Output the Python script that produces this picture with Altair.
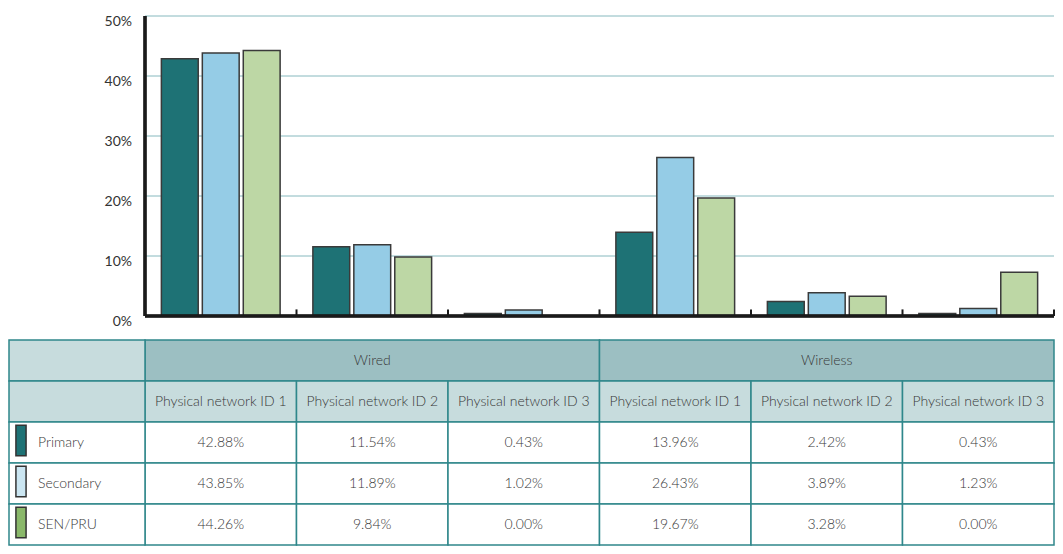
import altair as alt
import pandas as pd

# ---------------- data ----------------
conn_types = ["Wired", "Wired", "Wired", "Wireless", "Wireless", "Wireless"]
networks = ["Physical network ID 1", "Physical network ID 2", "Physical network ID 3"] * 2
series = ["Primary", "Secondary", "SEN/PRU"]

# bar heights (%)
bar_primary = [42.88, 11.54, 0.43, 13.96, 2.42, 0.43]
bar_secondary = [43.85, 11.89, 1.02, 26.43, 3.89, 1.23]
bar_sen = [44.26, 9.84, 0.00, 19.67, 3.28, 7.30]

# values printed in the table
tab_primary = ["42.88%", "11.54%", "0.43%", "13.96%", "2.42%", "0.43%"]
tab_secondary = ["43.85%", "11.89%", "1.02%", "26.43%", "3.89%", "1.23%"]
tab_sen = ["44.26%", "9.84%", "0.00%", "19.67%", "3.28%", "0.00%"]

y_ticks = [0, 10, 20, 30, 40, 50]

bar_colors = ["#1e7275", "#95cce6", "#bdd7a5"]
swatch_colors = ["#1e7275", "#cbe6f2", "#8ab86a"]

# ---------------- tables ----------------
groups = [f"{t} | {n}" for t, n in zip(conn_types, networks)]
bar_vals = {"Primary": bar_primary, "Secondary": bar_secondary, "SEN/PRU": bar_sen}
tab_vals = {"Primary": tab_primary, "Secondary": tab_secondary, "SEN/PRU": tab_sen}

bars_df = pd.DataFrame(
    [{"group": g, "series": s, "value": bar_vals[s][i]} for s in series for i, g in enumerate(groups)]
)
body_df = pd.DataFrame(
    [{"group": g, "row": s, "label": tab_vals[s][i]} for s in series for i, g in enumerate(groups)]
)
h2_df = pd.DataFrame([{"group": g, "row": "h2", "label": n} for g, n in zip(groups, networks)])
h1_df = pd.DataFrame(
    [
        {"start": groups[0], "end": groups[2], "mid": groups[1], "row": "h1", "label": conn_types[0]},
        {"start": groups[3], "end": groups[5], "mid": groups[4], "row": "h1", "label": conn_types[3]},
    ]
)
rowlab_df = pd.DataFrame([{"row": s, "label": s} for s in series])
hdr_left_df = pd.DataFrame([{"row": "h1"}, {"row": "h2"}])
ticks_df = pd.DataFrame({"v": y_ticks, "label": [f"{v}%" for v in y_ticks]})
grid_df = ticks_df[ticks_df.v > 0]
gend_df = pd.DataFrame({"group": groups})

# ---------------- scales ----------------
W, H = 1046, 530
xs = alt.Scale(domain=groups, range=[136, W - 1], paddingInner=0, paddingOuter=0)
ybar = alt.Scale(domain=[0, 50], range=[300, 0], nice=False, zero=True)
rows = ["h1", "h2"] + series
ytab = alt.Scale(domain=rows, range=[324, H - 1], paddingInner=0, paddingOuter=0)

FONT = "Lato"
TXT = "#383838"
BORDER = "#2f878b"

def X(field=None, **kw):
    if field is None:
        return alt.X(scale=xs, axis=None, type="nominal", **kw)
    return alt.X(field, scale=xs, axis=None, **kw)

def YB(field=None, **kw):
    if field is None:
        return alt.Y(scale=ybar, axis=None, type="quantitative", **kw)
    return alt.Y(field, scale=ybar, axis=None, **kw)

def YT(field=None, **kw):
    if field is None:
        return alt.Y(scale=ytab, axis=None, type="nominal", **kw)
    return alt.Y(field, scale=ytab, axis=None, **kw)

# ---------------- bar chart ----------------
grid = alt.Chart(grid_df).mark_rule(color="#86b9be", strokeWidth=1).encode(
    x=X(datum=groups[0], bandPosition=0),
    x2=alt.X2(datum=groups[-1], bandPosition=1),
    y=YB("v:Q"),
)

bars = alt.Chart(bars_df).mark_bar(stroke="#3a3a3a", strokeWidth=1.5).encode(
    x=X("group:N"),
    xOffset=alt.XOffset(
        "series:N", scale=alt.Scale(domain=series, paddingInner=0.1, paddingOuter=0.4)
    ),
    y=YB("value:Q"),
    color=alt.Color("series:N", scale=alt.Scale(domain=series, range=bar_colors), legend=None),
)

y_axis_line = alt.Chart(ticks_df).mark_rule(color="#1a1a1a", strokeWidth=2.5).encode(
    x=X(datum=groups[0], bandPosition=0),
    y=YB(datum=0),
    y2=alt.Y2(datum=50),
)

x_axis_line = alt.Chart(ticks_df).mark_rule(color="#1a1a1a", strokeWidth=2.5).encode(
    x=X(datum=groups[0], bandPosition=0),
    x2=alt.X2(datum=groups[-1], bandPosition=1),
    y=YB(datum=0),
)

x_ticks = alt.Chart(gend_df).mark_rule(color="#1a1a1a", strokeWidth=2).encode(
    x=X("group:N", bandPosition=1),
    y=YB(datum=0),
    y2=alt.Y2(datum=1.1),
)

y_labels = alt.Chart(ticks_df).mark_text(
    align="right", baseline="middle", dx=-13, dy=6, font=FONT, fontSize=14, color="#333333"
).encode(
    x=X(datum=groups[0], bandPosition=0),
    y=YB("v:Q"),
    text="label:N",
)

# ---------------- table ----------------
h1_cells = alt.Chart(h1_df).mark_rect(fill="#9cbfc2", stroke=BORDER, strokeWidth=1.5).encode(
    x=X("start:N", bandPosition=0),
    x2=alt.X2("end:N", bandPosition=1),
    y=YT("row:N"),
)
h2_cells = alt.Chart(h2_df).mark_rect(fill="#c7dcdd", stroke=BORDER, strokeWidth=1.5).encode(
    x=X("group:N"), y=YT("row:N")
)
body_cells = alt.Chart(body_df).mark_rect(fill="white", stroke=BORDER, strokeWidth=1.5).encode(
    x=X("group:N"), y=YT("row:N")
)
left_hdr = alt.Chart(hdr_left_df).mark_rect(fill="#c7dcdd", stroke=BORDER, strokeWidth=1.5).encode(
    x=X(datum=groups[0], bandPosition=0), x2=alt.value(0), y=YT("row:N")
)
left_body = alt.Chart(rowlab_df).mark_rect(fill="white", stroke=BORDER, strokeWidth=1.5).encode(
    x=X(datum=groups[0], bandPosition=0), x2=alt.value(0), y=YT("row:N")
)

txt_kw = dict(font=FONT, fontSize=14, fontWeight=300, color=TXT, baseline="middle")
h1_text = alt.Chart(h1_df).mark_text(**txt_kw).encode(x=X("mid:N"), y=YT("row:N"), text="label:N")
h2_text = alt.Chart(h2_df).mark_text(**txt_kw).encode(x=X("group:N"), y=YT("row:N"), text="label:N")
body_text = alt.Chart(body_df).mark_text(**txt_kw).encode(x=X("group:N"), y=YT("row:N"), text="label:N")
row_text = alt.Chart(rowlab_df).mark_text(align="left", **txt_kw).encode(
    x=alt.value(29), y=YT("row:N"), text="label:N"
)

swatches = alt.Chart(rowlab_df).mark_point(
    shape="M-0.333,-1H0.333V1H-0.333Z", size=930, filled=True, opacity=1,
    stroke="#333333", strokeWidth=1.5, yOffset=-2,
).encode(
    x=alt.value(12),
    y=YT("row:N"),
    fill=alt.Fill("row:N", scale=alt.Scale(domain=series, range=swatch_colors), legend=None),
)

chart = (
    alt.layer(
        grid, bars, y_axis_line, x_axis_line, x_ticks, y_labels,
        h1_cells, h2_cells, body_cells, left_hdr, left_body,
        h1_text, h2_text, body_text, row_text, swatches,
    )
    .resolve_scale(y="independent")
    .properties(
        width=W, height=H,
        padding={"left": 1, "top": 8, "right": 0, "bottom": 0},
        autosize=alt.AutoSizeParams(type="none"),
        background="white",
    )
    .configure_view(stroke=None)
)

chart.save("out.html", embed_options={"renderer": "svg", "actions": False})
